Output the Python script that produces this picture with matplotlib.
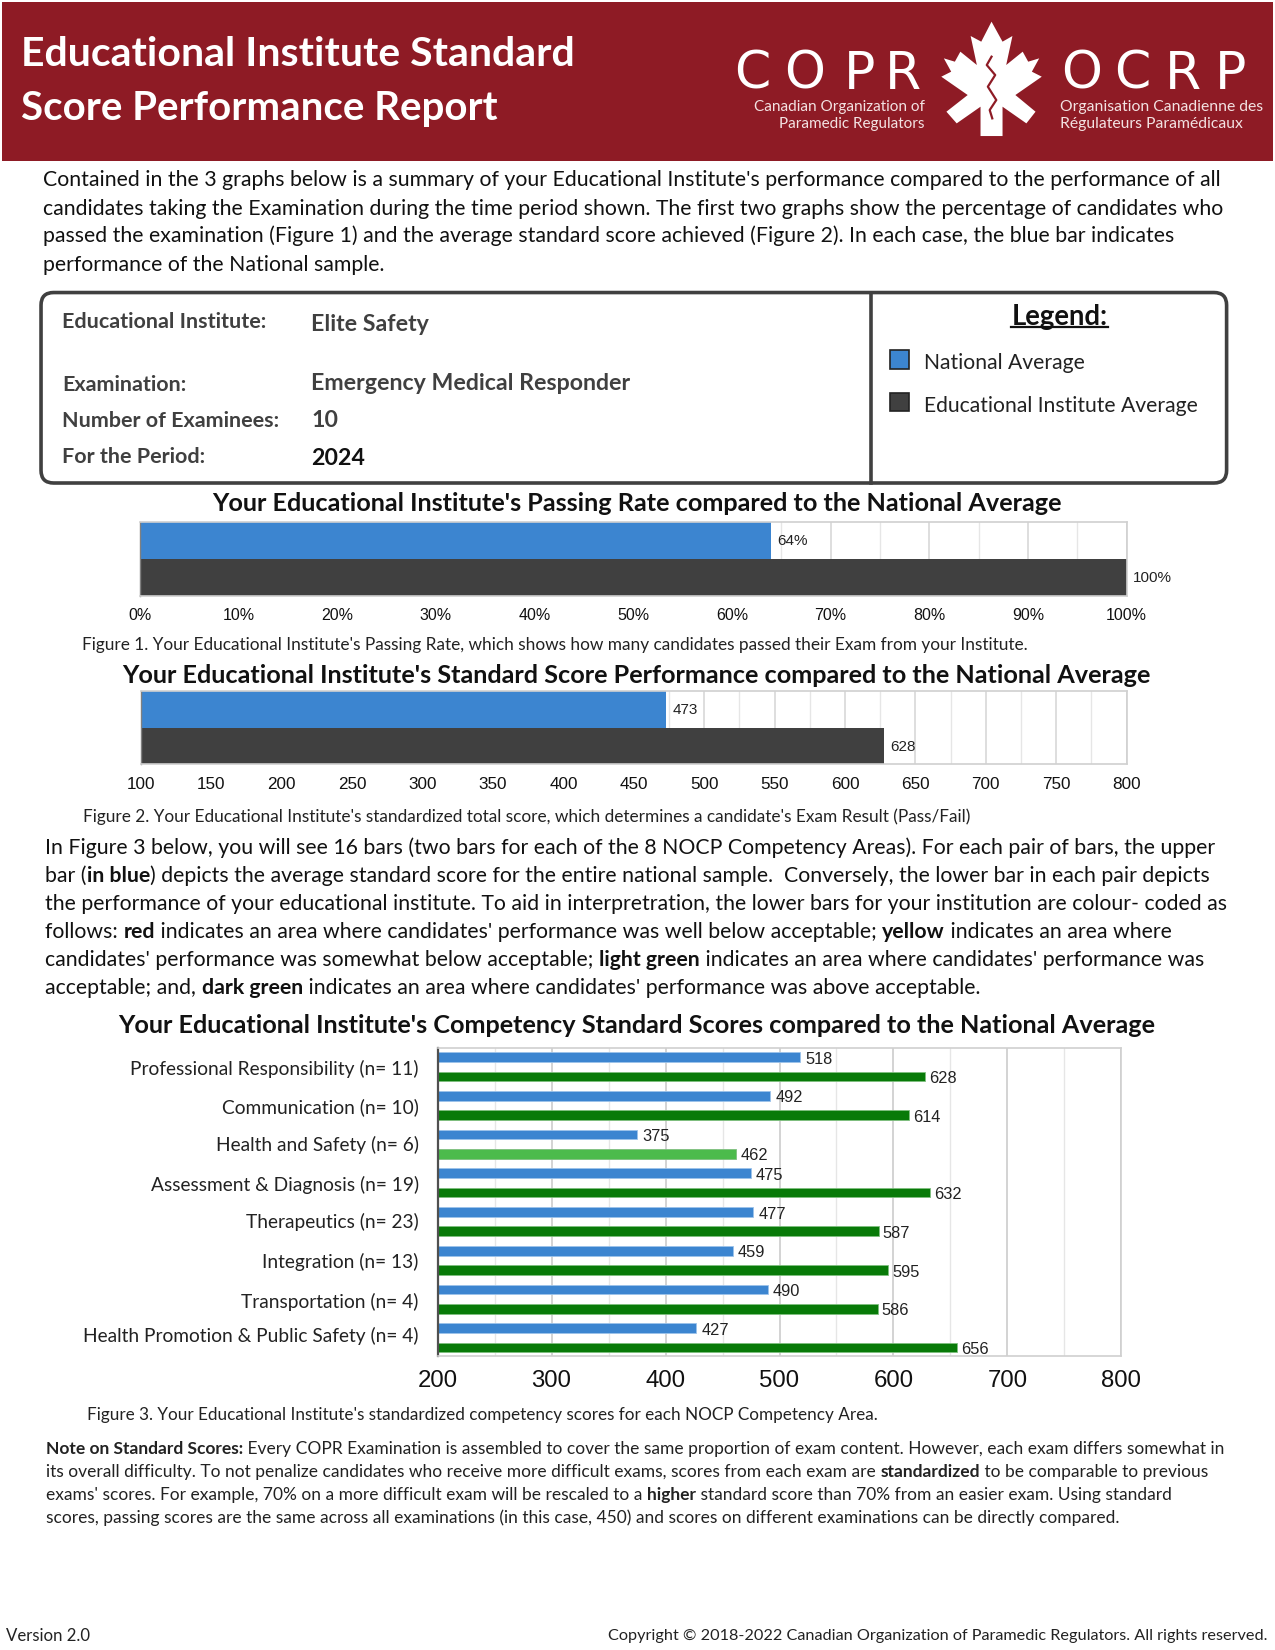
import matplotlib
matplotlib.use("Agg")
import matplotlib.pyplot as plt
from matplotlib.patches import Rectangle, FancyBboxPatch, Polygon
from matplotlib.font_manager import FontProperties

W, H = 1212, 1568
BODY = "Lato"
ARIAL = "Liberation Sans"

# ---------- data ----------
fig1_categories = ["National Average", "Educational Institute Average"]
fig1_values = [64, 100]
fig2_values = [473, 628]
competencies = ["Professional Responsibility (n= 11)", "Communication (n= 10)", "Health and Safety (n= 6)",
                "Assessment & Diagnosis (n= 19)", "Therapeutics (n= 23)", "Integration (n= 13)",
                "Transportation (n= 4)", "Health Promotion & Public Safety (n= 4)"]
national_scores = [518, 492, 375, 475, 477, 459, 490, 427]
institute_scores = [628, 614, 462, 632, 587, 595, 586, 656]
institute_band = ["dark", "dark", "light", "dark", "dark", "dark", "dark", "dark"]

RED = "#8E1B25"; BLUE = "#3C85D0"; DARK = "#404040"
BAND = {"dark": "#087A08", "light": "#4CBB4C"}

fig = plt.figure(figsize=(12.75, 16.5), dpi=100)
bg = fig.add_axes([0, 0, 1, 1], zorder=0)
bg.set_xlim(0, W); bg.set_ylim(H, 0); bg.axis("off")
fig.canvas.draw()
rend = fig.canvas.get_renderer()


def width(s, size, weight="normal", family=BODY):
    fp = FontProperties(family=family, size=size, weight=weight)
    a = rend.get_text_width_height_descent(s + "|", fp, False)[0]
    b = rend.get_text_width_height_descent("|", fp, False)[0]
    return (a - b) / (1275 / W)


def fit(s, target, weight="normal", family=BODY):
    return 20 * target / width(s, 20, weight, family)


def T(x, y, s, size, weight="normal", color="#111111", family=BODY, ha="left"):
    return bg.text(x, y, s, fontsize=size, fontweight=weight, color=color, family=family,
                   ha=ha, va="center_baseline")


def rich(x, y, parts, size, color="#111111"):
    for s, b in parts:
        wt = "bold" if b else "normal"
        T(x, y, s, size, wt, color)
        x += width(s, size, wt)


# ---------- header ----------
bg.add_patch(Rectangle((2, 2), 1208, 151, fc=RED, ec="none"))
T(20, 48, "Educational Institute Standard", fit("Educational Institute Standard", 525, "bold"), "bold", "white")
T(20, 99.5, "Score Performance Report", fit("Score Performance Report", 452, "bold"), "bold", "white")

for ch, x in zip("COPR", [715, 765, 817, 858]):
    T(x, 66, ch, 37.5, "normal", "white", "DejaVu Sans", "center")
for ch, x in zip("OCRP", [1028, 1076, 1125, 1170]):
    T(x, 66, ch, 37.5, "normal", "white", "DejaVu Sans", "center")
sub = "#F3E2E2"
T(879, 100, "Canadian Organization of", 11, "normal", sub, BODY, "right")
T(879, 116, "Paramedic Regulators", 11, "normal", sub, BODY, "right")
T(1008, 100, "Organisation Canadienne des", 11.3, "normal", sub)
T(1008, 116, "Régulateurs Paramédicaux", 11.3, "normal", sub)

leaf = [(795, 65), (825, 125), (852, 108), (835, 195), (880, 155), (895, 185), (925, 175), (905, 215),
        (932, 230), (860, 285), (915, 335), (890, 370), (825, 320), (825, 408), (765, 408), (765, 320),
        (700, 370), (672, 335), (730, 285), (658, 230), (685, 215), (665, 175), (695, 185), (710, 155),
        (755, 195), (738, 108), (767, 125)]


def logo_xy(px, py):
    return (700 + px / 2.727) * W / 1275, (py / 3) * W / 1275


bg.add_patch(Polygon([logo_xy(px, py) for px, py in leaf], fc="white", ec="none"))
rod = [(795, 170), (782, 195), (805, 225), (785, 260), (808, 300), (790, 330), (797, 355)]
bg.plot([logo_xy(*p)[0] for p in rod], [logo_xy(*p)[1] for p in rod], color=RED, lw=1.6)

# ---------- intro ----------
intro = ["Contained in the 3 graphs below is a summary of your Educational Institute's performance compared to the performance of all",
         "candidates taking the Examination during the time period shown. The first two graphs show the percentage of candidates who",
         "passed the examination (Figure 1) and the average standard score achieved (Figure 2). In each case, the blue bar indicates",
         "performance of the National sample."]
s = fit(intro[1], 1118)
for y, line in zip([169.5, 196.5, 222.5, 250], intro):
    T(41, y, line, s)

# ---------- info box ----------
bg.add_patch(FancyBboxPatch((46, 285), 1113, 167, boxstyle="round,pad=7,rounding_size=12", fc="white",
                            ec="#404040", lw=2.6))
bg.plot([828, 828], [278, 459], color="#404040", lw=2.6)
lab = fit("Number of Examinees:", 206, "bold")
for y, t in zip([304.5, 363.5, 398, 432], ["Educational Institute:", "Examination:", "Number of Examinees:", "For the Period:"]):
    T(59, y, t, lab, "bold", "#404040")
val = fit("Emergency Medical Responder", 303, "bold")
for y, t, c in zip([306, 363, 398, 434], ["Elite Safety", "Emergency Medical Responder", "10", "2024"],
                   ["#404040", "#404040", "#404040", "#111111"]):
    T(296, y, t, val, "bold", c)
lgs = fit("Legend:", 92, "bold")
T(1007, 299, "Legend:", lgs, "bold", "#111111", BODY, "center")
bg.plot([961, 1053], [310.5, 310.5], color="#111111", lw=1.6)
ls = fit("Educational Institute Average", 260)
for y, name, c in zip([344, 384], fig1_categories, [BLUE, DARK]):
    bg.add_patch(Rectangle((846, y - 11), 18, 18, fc=c, ec="#222222", lw=1.2))
    T(878, y - 0.5, name, ls, "normal", "#222222")


# ---------- charts ----------
def axes(l, r, t, b):
    a = fig.add_axes([l / W, 1 - b / H, (r - l) / W, (b - t) / H], zorder=2)
    a.set_axisbelow(True)
    for sp in ["top", "right", "bottom"]:
        a.spines[sp].set_color("#D0D0D0"); a.spines[sp].set_linewidth(1.2)
    a.spines["left"].set_color("#808080"); a.spines["left"].set_linewidth(1)
    a.set_yticks([])
    return a


def compare_chart(box, values, xmin, xmax, major, minor, fmt, tick_size, pad):
    a = axes(*box)
    bars = a.barh([0, 1], [v - xmin for v in values], height=1, left=xmin, color=[BLUE, DARK])
    a.set_xlim(xmin, xmax); a.set_ylim(1.5, -0.5)
    a.set_xticks(range(xmin, xmax + 1, major))
    a.set_xticks(range(xmin, xmax + 1, minor), minor=True)
    a.set_xticklabels([fmt.format(t) for t in range(xmin, xmax + 1, major)],
                      fontsize=tick_size, family=ARIAL, color="#111111")
    a.tick_params(axis="x", which="both", length=0, pad=pad)
    a.grid(axis="x", which="major", color="#D4D4D4", lw=1.1)
    a.grid(axis="x", which="minor", color="#E6E6E6", lw=1)
    for b, v in zip(bars, values):
        a.annotate(fmt.format(v), (b.get_x() + b.get_width(), b.get_y() + 0.5), xytext=(4.5, -0.7),
                   textcoords="offset points", va="center", fontsize=11, family=ARIAL,
                   color="#222222", annotation_clip=False)
    return a


tsize = fit("Your Educational Institute's Standard Score Performance compared to the National Average", 981, "bold")
T(605, 476.5, "Your Educational Institute's Passing Rate compared to the National Average", tsize, "bold", "#111111", BODY, "center")
compare_chart((133, 1071, 496, 566), fig1_values, 0, 100, 10, 5, "{}%", 11.5, 9)
cap = fit("Figure 1. Your Educational Institute's Passing Rate, which shows how many candidates passed their Exam from your Institute.", 903)
T(78, 611.5, "Figure 1. Your Educational Institute's Passing Rate, which shows how many candidates passed their Exam from your Institute.", cap, "normal", "#222222")

T(605, 640.5, "Your Educational Institute's Standard Score Performance compared to the National Average", tsize, "bold", "#111111", BODY, "center")
compare_chart((134, 1071, 657, 726), fig2_values, 100, 800, 50, 25, "{}", 12.3, 9.5)
T(79, 775, "Figure 2. Your Educational Institute's standardized total score, which determines a candidate's Exam Result (Pass/Fail)", cap, "normal", "#222222")

para = [[("In Figure 3 below, you will see 16 bars (two bars for each of the 8 NOCP Competency Areas). For each pair of bars, the upper", 0)],
        [("bar (", 0), ("in blue", 1), (") depicts the average standard score for the entire national sample.  Conversely, the lower bar in each pair depicts", 0)],
        [("the performance of your educational institute. To aid in interpretration, the lower bars for your institution are colour- coded as", 0)],
        [("follows: ", 0), ("red", 1), (" indicates an area where candidates' performance was well below acceptable; ", 0), ("yellow", 1), (" indicates an area where", 0)],
        [("candidates' performance was somewhat below acceptable; ", 0), ("light green", 1), (" indicates an area where candidates' performance was", 0)],
        [("acceptable; and, ", 0), ("dark green", 1), (" indicates an area where candidates' performance was above acceptable.", 0)]]
ps = fit(para[2][0][0], 1123)
for y, parts in zip([804, 830.5, 857, 884, 910.5, 937], para):
    rich(43, y, parts, ps)

T(605, 973, "Your Educational Institute's Competency Standard Scores compared to the National Average", tsize, "bold", "#111111", BODY, "center")

a3 = axes(416, 1066, 996, 1289)
a3.spines["left"].set_color("#505050"); a3.spines["left"].set_linewidth(1.6)
ypos_n = [2 * i for i in range(len(competencies))]
ypos_i = [2 * i + 1 for i in range(len(competencies))]
b1 = a3.barh(ypos_n, national_scores, height=0.5, color=BLUE, edgecolor="#9CC3EA", lw=0.6)
b2 = a3.barh(ypos_i, institute_scores, height=0.5, color=[BAND[k] for k in institute_band], edgecolor="#7FBF7F", lw=0.6)
for group, dx in ((b1, 3.5), (b2, 3)):
    for b in group:
        a3.annotate(str(int(b.get_width())), (b.get_width(), b.get_y() + b.get_height() / 2), xytext=(dx, -1.5),
                    textcoords="offset points", va="center", fontsize=11.8, family=ARIAL, color="#222222",
                    annotation_clip=False)
a3.set_xlim(200, 800); a3.set_ylim(15.46, -0.46)
a3.set_xticks(range(200, 801, 100)); a3.set_xticks(range(250, 800, 100), minor=True)
a3.set_xticklabels([str(t) for t in range(200, 801, 100)], fontsize=17.3, family=ARIAL, color="#111111")
a3.tick_params(axis="x", which="both", length=0, pad=10)
a3.grid(axis="x", which="major", color="#C8C8C8", lw=1.1)
a3.grid(axis="x", which="minor", color="#E6E6E6", lw=1)

cs = fit(competencies[-1], 319)
for y, name in zip([1014, 1050.5, 1087, 1124.5, 1159.5, 1197.5, 1235.5, 1268.5], competencies):
    T(398, y, name, cs, "normal", "#222222", BODY, "right")

T(83, 1343.5, "Figure 3. Your Educational Institute's standardized competency scores for each NOCP Competency Area.", cap * 0.995, "normal", "#222222")

note = [[("Note on Standard Scores:", 1), (" Every COPR Examination is assembled to cover the same proportion of exam content. However, each exam differs somewhat in", 0)],
        [("its overall difficulty. To not penalize candidates who receive more difficult exams, scores from each exam are ", 0), ("standardized", 1), (" to be comparable to previous", 0)],
        [("exams' scores. For example, 70% on a more difficult exam will be rescaled to a ", 0), ("higher", 1), (" standard score than 70% from an easier exam. Using standard", 0)],
        [("scores, passing scores are the same across all examinations (in this case, 450) and scores on different examinations can be directly compared.", 0)]]
ns = fit(note[3][0][0], 1023) * 0.997
for y, parts in zip([1376, 1397, 1419, 1440.5], note):
    rich(44, y, parts, ns, "#222222")

fs = fit("Copyright © 2018-2022 Canadian Organization of Paramedic Regulators. All rights reserved.", 626)
T(6, 1553, "Version 2.0", fs * 1.03, "normal", "#222222")
T(1205, 1553, "Copyright © 2018-2022 Canadian Organization of Paramedic Regulators. All rights reserved.", fs, "normal", "#222222", BODY, "right")

fig.savefig("out.png", dpi=100)
